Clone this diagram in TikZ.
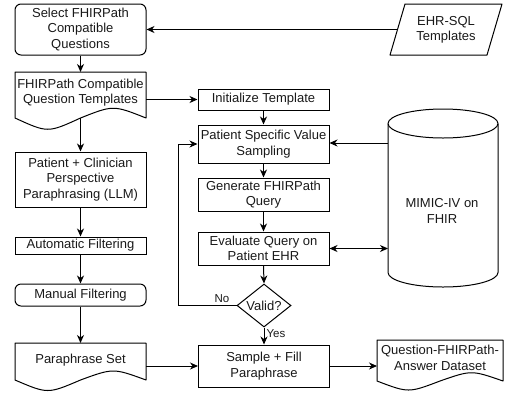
\documentclass[tikz,border=0pt]{standalone}
\usepackage{fontspec}
\setmainfont{Liberation Sans}
\usetikzlibrary{arrows.meta,shapes.geometric,calc}
\begin{document}
\begin{tikzpicture}[x=1pt,y=-1pt,
  every node/.style={font=\fontsize{13}{15.5}\selectfont, align=center, inner sep=0pt, text=black!90},
  box/.style={draw=black, line width=1pt, minimum width=131pt},
  rbox/.style={box, rounded corners=6pt},
  lbl/.style={font=\fontsize{11.5}{13}\selectfont},
  arr/.style={-{Stealth[length=8pt,width=7pt,inset=2.5pt]}, line width=1pt},
  darr/.style={{Stealth[length=8pt,width=7pt,inset=2.5pt]}-{Stealth[length=8pt,width=7pt,inset=2.5pt]}, line width=1pt},
  shp/.style={line width=1pt, line join=round}]
\useasboundingbox (0,0) rectangle (505,392);

% ---------- left column ----------
\node[rbox, minimum height=51pt] (select) at (80.5,29.5) {Select FHIRPath\\Compatible\\Questions};
\draw[shp] (15,72) -- (146,72) -- (146,118) .. controls (113.25,105) .. (80.5,118) .. controls (47.75,133) .. (15,118) -- cycle;
\node (doc1) at (80.5,92.5) {FHIRPath Compatible\\Question Templates};
\coordinate (doc1e) at (146,99.5);
\coordinate (doc1s) at (80.5,118);
\node[box, minimum height=55pt] (pcp) at (80.5,179.5) {Patient + Clinician\\Perspective\\Paraphrasing (LLM)};
\node[box, minimum height=17pt] (auto) at (80.5,245.5) {Automatic Filtering};
\node[rbox, minimum height=22pt] (manual) at (80.5,295) {Manual Filtering};
\draw[shp] (15,343) -- (146,343) -- (146,380) .. controls (113.25,368) .. (80.5,380) .. controls (47.75,394) .. (15,380) -- cycle;
\node (para) at (80.5,360) {Paraphrase Set};
\coordinate (parae) at (146,366);

% ---------- EHR-SQL ----------
\draw[shp] (405,4) -- (502,4) -- (487,55) -- (390,55) -- cycle;
\node (ehr) at (446,30) {EHR-SQL\\Templates};
\coordinate (ehrw) at (397.4,29.5);

% ---------- middle column ----------
\node[box, minimum height=21pt] (init) at (263.5,99.5) {Initialize Template};
\node[box, minimum height=38pt] (pss) at (263.5,144) {Patient Specific Value\\Sampling};
\node[box, minimum height=33pt] (gen) at (263.5,194.5) {Generate FHIRPath\\Query};
\node[box, minimum height=33pt] (eval) at (263.5,248.5) {Evaluate Query on\\Patient EHR};
\node[draw=black, line width=1pt, diamond, aspect=1.25, minimum width=54pt, minimum height=43pt] (valid) at (264,305.5) {Valid?};
\node[box, minimum height=42pt] (sample) at (264,366) {Sample + Fill\\Paraphrase};

% ---------- MIMIC cylinder ----------
\draw[shp] (388,123.5) -- (388,272.5) arc[start angle=180,end angle=360,x radius=55pt,y radius=14.5pt] -- (498,123.5);
\draw[shp] (443,123.5) ellipse [x radius=55pt, y radius=14.5pt];
\node (mimic) at (442,211) {MIMIC-IV on\\FHIR};
\coordinate (mimicA) at (388,143);
\coordinate (mimicB) at (388,248.5);

% ---------- dataset ----------
\draw[shp] (377,340) -- (503,340) -- (503,381) .. controls (471.5,370) .. (440,381) .. controls (408.5,393) .. (377,381) -- cycle;
\node (data) at (440,358) {Question-FHIRPath-\\Answer Dataset};
\coordinate (dataw) at (377,366);

% ---------- connectors ----------
\draw[arr] (ehrw) -- (select.east |- ehrw);
\draw[arr] (select.south) -- (80.5,72);
\draw[arr] (doc1e) -- (init.west);
\draw[arr] (doc1s) -- (pcp.north);
\draw[arr] (pcp.south) -- (auto.north);
\draw[arr] (auto.south) -- (manual.north);
\draw[arr] (manual.south) -- (80.5,343);
\draw[arr] (parae) -- (sample.west);
\draw[arr] (sample.east) -- (dataw);

\draw[arr] (init.south) -- (pss.north);
\draw[arr] (pss.south) -- (gen.north);
\draw[arr] (gen.south) -- (eval.north);
\draw[arr] (eval.south) -- (valid.north);
\draw[arr] (valid.south) -- node[lbl, right=2pt, pos=0.35] (yes) {Yes} (sample.north);
\draw[arr] (valid.west) -- node[lbl, above=2pt, pos=0.25] (no) {No} (178,305.5) |- (pss.west);

\draw[arr] (mimicA) -- (pss.east |- mimicA);
\draw[darr] (eval.east) -- (mimicB);
\end{tikzpicture}
\end{document}
